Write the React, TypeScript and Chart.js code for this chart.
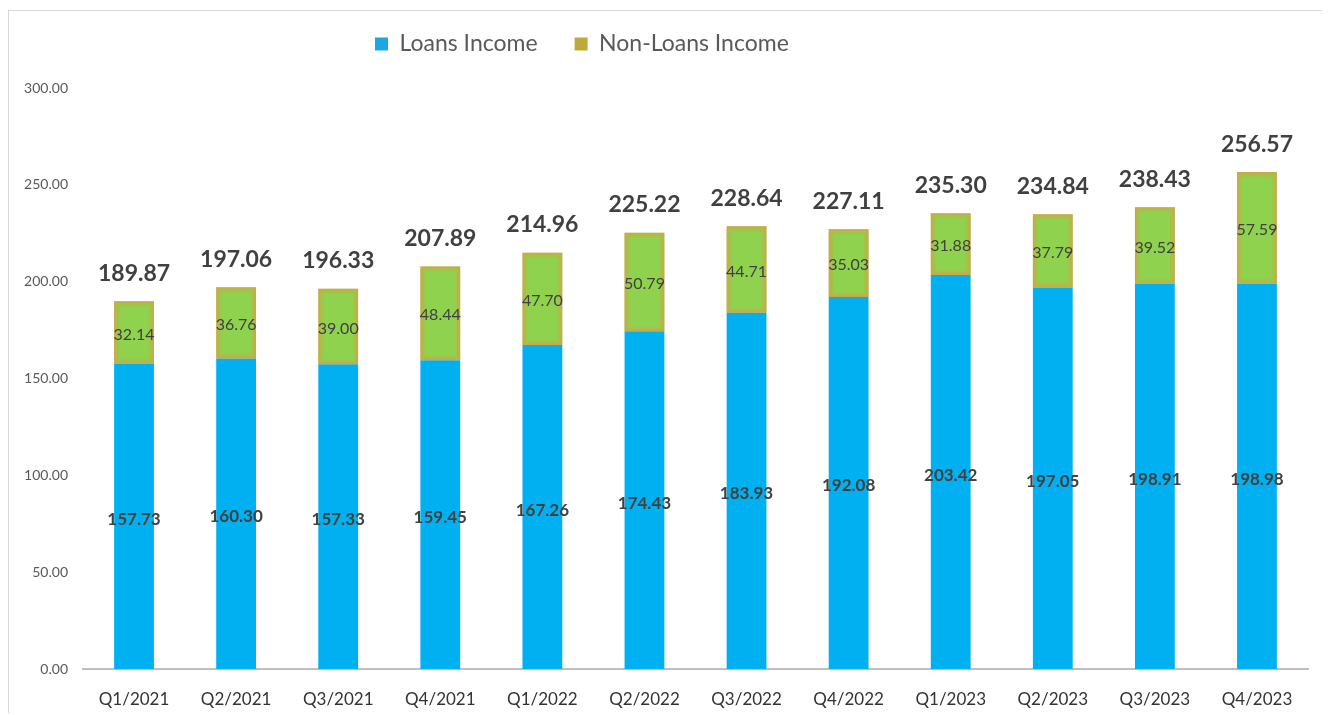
import React, { useEffect, useRef } from "react";
import { Chart, registerables } from "chart.js";

Chart.register(...registerables);

const quarters = [
  "Q1/2021", "Q2/2021", "Q3/2021", "Q4/2021",
  "Q1/2022", "Q2/2022", "Q3/2022", "Q4/2022",
  "Q1/2023", "Q2/2023", "Q3/2023", "Q4/2023",
];
const loansIncome = [157.73, 160.3, 157.33, 159.45, 167.26, 174.43, 183.93, 192.08, 203.42, 197.05, 198.91, 198.98];
const nonLoansIncome = [32.14, 36.76, 39.0, 48.44, 47.7, 50.79, 44.71, 35.03, 31.88, 37.79, 39.52, 57.59];
const totalIncome = [189.87, 197.06, 196.33, 207.89, 214.96, 225.22, 228.64, 227.11, 235.3, 234.84, 238.43, 256.57];
const seriesNames = ["Loans Income", "Non-Loans Income"];

const FONT = 'Lato, "Open Sans", sans-serif';
const BLUE = "#00B0F0";
const GREEN = "#8FD24E";
const LABEL_COLOR = "#404040";

const LEGEND_PAD = 37;
const LEGEND_HEIGHT = 77;
const LEGEND_FONT = 23;

const layoutPlugin = {
  id: "customLayout",
  beforeLayout(chart: any) {
    const lg = chart.legend;
    if (lg && !lg.__wrapped) {
      const orig = lg.fit;
      lg.fit = function () {
        orig.call(this);
        this.height = LEGEND_HEIGHT;
      };
      lg.__wrapped = true;
    }
  },
  afterLayout(chart: any) {
    const lg = chart.legend;
    if (!lg) return;
    const dx = 366 - LEGEND_PAD;
    const dy = 33 - (LEGEND_PAD + LEGEND_FONT / 2);
    lg.left += dx;
    lg.right += dx;
    lg.top += dy;
    lg.bottom += dy;
  },
};

const labelsPlugin = {
  id: "barLabels",
  afterDatasetsDraw(chart: any) {
    const ctx = chart.ctx;
    const m0 = chart.getDatasetMeta(0);
    const m1 = chart.getDatasetMeta(1);
    ctx.save();
    // soft orange glow inside green bars
    m1.data.forEach((bar: any) => {
      const left = bar.x - bar.width / 2;
      const top = Math.min(bar.y, bar.base);
      const h = Math.abs(bar.base - bar.y);
      const w = bar.width;
      for (let k = 0; k < 5; k++) {
        ctx.strokeStyle = `rgba(232,150,72,${0.7 * (1 - k / 5)})`;
        ctx.lineWidth = 1;
        ctx.strokeRect(left + k + 0.5, top + k + 0.5, w - 2 * k - 1, h - 2 * k - 1);
      }
    });
    ctx.textAlign = "center";
    ctx.textBaseline = "middle";
    ctx.fillStyle = LABEL_COLOR;
    m0.data.forEach((bar: any, i: number) => {
      ctx.font = `bold 17px ${FONT}`;
      ctx.fillText(loansIncome[i].toFixed(2), bar.x, (bar.y + bar.base) / 2 + 3);
    });
    m1.data.forEach((bar: any, i: number) => {
      ctx.font = `16px ${FONT}`;
      ctx.fillText(nonLoansIncome[i].toFixed(2), bar.x, (bar.y + bar.base) / 2 + 2);
      ctx.font = `bold 23px ${FONT}`;
      ctx.fillText(totalIncome[i].toFixed(2), bar.x, bar.y - 28);
    });
    ctx.restore();
  },
};

export default function App() {
  const ref = useRef<HTMLCanvasElement>(null);
  useEffect(() => {
    document.documentElement.style.overflow = "hidden";
    document.body.style.overflow = "hidden";
    const chart = new Chart(ref.current as HTMLCanvasElement, {
      type: "bar",
      data: {
        labels: quarters,
        datasets: [
          {
            label: seriesNames[0],
            data: loansIncome,
            backgroundColor: BLUE,
            borderWidth: 0,
            barPercentage: 0.39,
            categoryPercentage: 1,
          },
          {
            label: seriesNames[1],
            data: nonLoansIncome,
            backgroundColor: GREEN,
            borderWidth: 0,
            barPercentage: 0.39,
            categoryPercentage: 1,
          },
        ],
      },
      options: {
        responsive: false,
        animation: false,
        devicePixelRatio: 1,
        layout: { padding: { top: 0, left: 0, right: 16, bottom: 0 } },
        plugins: {
          tooltip: { enabled: false },
          legend: {
            position: "top",
            align: "start",
            labels: {
              boxWidth: 13,
              boxHeight: 13,
              padding: LEGEND_PAD,
              color: "#595959",
              font: { family: FONT, size: LEGEND_FONT },
              generateLabels: () => [
                { text: seriesNames[0], fillStyle: "#1CA6E2", strokeStyle: "#1CA6E2", lineWidth: 0, hidden: false, datasetIndex: 0, fontColor: "#595959" },
                { text: seriesNames[1], fillStyle: "#BDA93C", strokeStyle: "#BDA93C", lineWidth: 0, hidden: false, datasetIndex: 1, fontColor: "#595959" },
              ],
            },
          },
        },
        scales: {
          x: {
            stacked: true,
            grid: { display: false, drawTicks: false },
            border: { display: true, color: "#BFBFBF", width: 2 },
            ticks: { color: "#333333", font: { family: FONT, size: 17 }, padding: 20, maxRotation: 0 },
            afterFit: (s: any) => { s.height = 45; },
          },
          y: {
            stacked: true,
            min: 0,
            max: 300,
            grid: { display: false, drawTicks: false },
            border: { display: false },
            ticks: {
              stepSize: 50,
              color: "#595959",
              font: { family: FONT, size: 14 },
              padding: 15,
              callback: (v: any) => Number(v).toFixed(2),
            },
            afterFit: (s: any) => { s.width = 74; },
          },
        },
      },
      plugins: [layoutPlugin, labelsPlugin],
    } as any);
    return () => chart.destroy();
  }, []);
  return (
    <div
      style={{
        position: "relative",
        top: 2,
        width: 1317,
        height: 705,
        border: "1px solid #D9D9D9",
        boxSizing: "border-box",
        background: "#fff",
      }}
    >
      <canvas ref={ref} width={1315} height={703} style={{ display: "block" }} />
    </div>
  );
}
